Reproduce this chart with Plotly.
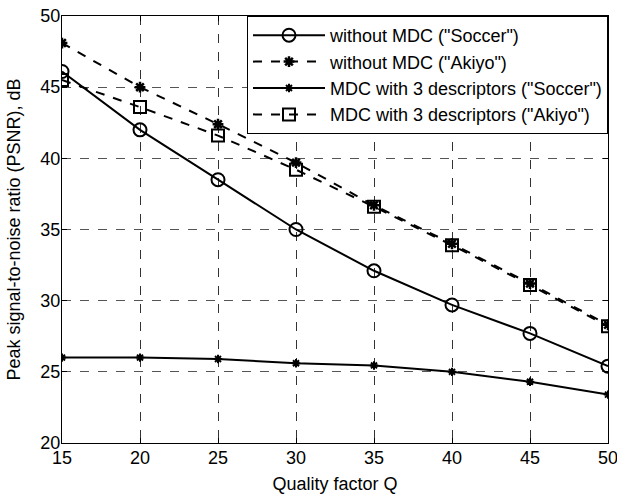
import plotly.graph_objects as go

q = [15, 20, 25, 30, 35, 40, 45, 50]
soccer_no_mdc = [46.1, 42.0, 38.5, 35.0, 32.1, 29.7, 27.7, 25.4]
akiyo_no_mdc = [48.1, 45.0, 42.4, 39.7, 36.7, 34.0, 31.2, 28.3]
soccer_mdc3 = [26.0, 26.0, 25.9, 25.6, 25.45, 25.0, 24.3, 23.4]
akiyo_mdc3 = [45.5, 43.6, 41.6, 39.2, 36.6, 33.9, 31.1, 28.2]

names = ['without MDC ("Soccer")', 'without MDC ("Akiyo")',
         'MDC with 3 descriptors ("Soccer")', 'MDC with 3 descriptors ("Akiyo")']

fig = go.Figure()
fig.add_trace(go.Scatter(x=q, y=soccer_no_mdc, name=names[0], mode="lines+markers", legendgroup="a",
                         line=dict(color="black", width=2, dash="solid"),
                         marker=dict(symbol="circle-open", size=13, color="black", line=dict(width=2))))
fig.add_trace(go.Scatter(x=q, y=akiyo_no_mdc, name=names[1], mode="lines+markers", legendgroup="b",
                         line=dict(color="black", width=2, dash="dash"),
                         marker=dict(symbol="asterisk-open", size=9, color="black", line=dict(width=2.5))))
fig.add_trace(go.Scatter(x=q, y=soccer_mdc3, name=names[2], mode="lines+markers", legendgroup="c",
                         line=dict(color="black", width=2, dash="solid"),
                         marker=dict(symbol="asterisk-open", size=7, color="black", line=dict(width=2))))
fig.add_trace(go.Scatter(x=q, y=akiyo_mdc3, name=names[3], mode="lines+markers", legendgroup="d",
                         line=dict(color="black", width=2, dash="dash"),
                         marker=dict(symbol="square-open", size=12, color="black", line=dict(width=2))))

font = "Liberation Sans, Arial, sans-serif"
fig.update_layout(
    width=617, height=494,
    margin=dict(l=62, r=9, t=16, b=51),
    paper_bgcolor="white", plot_bgcolor="white",
    font=dict(family=font, size=18, color="black"),
    showlegend=True,
    legend=dict(x=1, y=1, xanchor="right", yanchor="top",
                bgcolor="white", bordercolor="black", borderwidth=1,
                font=dict(size=18), tracegroupgap=0, itemwidth=72),
)
fig.update_xaxes(
    title=dict(text="Quality factor Q", font=dict(size=18)),
    range=[15, 50], tickvals=q, ticks="inside", ticklen=5, tickcolor="black",
    ticklabeloverflow="allow", ticklabelstandoff=-2,
    showline=True, linecolor="black", linewidth=1, mirror="ticks", automargin=False,
    showgrid=True, gridcolor="#333", griddash="dash", gridwidth=1, zeroline=False,
)
fig.update_yaxes(
    title=dict(text="Peak signal-to-noise ratio (PSNR), dB", font=dict(size=18)),
    range=[20, 50], tickvals=[20, 25, 30, 35, 40, 45, 50], ticks="inside", ticklen=5, tickcolor="black",
    ticklabeloverflow="allow", ticklabelstandoff=-3,
    showline=True, linecolor="black", linewidth=1, mirror="ticks", automargin=False,
    showgrid=True, gridcolor="#555", griddash="dash", gridwidth=1, zeroline=False,
)

fig.write_html("out.html", config={"displayModeBar": False},
               post_script="document.body.style.margin='0px';")
